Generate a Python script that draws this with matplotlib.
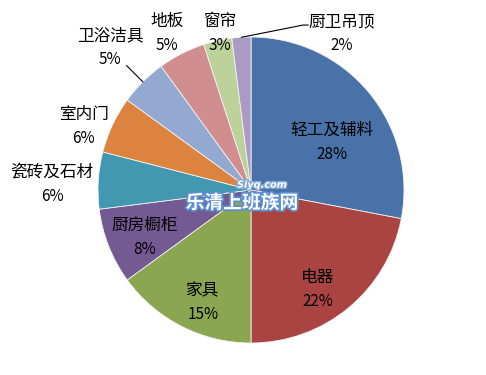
import numpy as np
import matplotlib
matplotlib.use("Agg")
import matplotlib.pyplot as plt
import matplotlib.patheffects as pe

plt.rcParams['font.family'] = ['Noto Sans CJK SC', 'DejaVu Sans']

categories = ['轻工及辅料', '电器', '家具', '厨房橱柜', '瓷砖及石材',
              '室内门', '卫浴洁具', '地板', '窗帘', '厨卫吊顶']
values = [28, 22, 15, 8, 6, 6, 5, 5, 3, 2]
pct_labels = ['28%', '22%', '15%', '8%', '6%', '6%', '5%', '5%', '3%', '2%']

colors = ['#4872A8', '#A94442', '#8AA650', '#735A93', '#4298B0',
          '#DC843F', '#93A9D2', '#D08F8E', '#BDD19A', '#A99BC3']

# label block centres (pie units, radius = 1)
label_pos = [(0.529, 0.310), (0.438, -0.650), (-0.314, -0.735), (-0.693, -0.310),
             (-1.301, 0.039), (-1.092, 0.415), (-0.922, 0.931), (-0.549, 1.023),
             (-0.203, 1.023), (0.595, 1.020)]

W, H = 486, 375
fig = plt.figure(figsize=(W / 100, H / 100), dpi=100)
cx, cy, R = 251, 190, 153
ax = fig.add_axes([(cx - R) / W, (H - cy - R) / H, 2 * R / W, 2 * R / H])

wedges, _ = ax.pie(values, colors=colors, startangle=90, counterclock=False,
                   radius=1.0, wedgeprops=dict(edgecolor='#F2F2F2', linewidth=0.6))
ax.set_xlim(-1, 1)
ax.set_ylim(-1, 1)
ax.set_aspect('equal')
ax.axis('off')

for name, pct, (x, y) in zip(categories, pct_labels, label_pos):
    ax.annotate(name, (x, y), xytext=(0, 12), textcoords='offset pixels',
                ha='center', va='center', fontsize=12, color='black',
                annotation_clip=False)
    ax.annotate(pct, (x, y), xytext=(0, -12), textcoords='offset pixels',
                ha='center', va='center', fontsize=11, color='black',
                annotation_clip=False)

# leader lines
def mid_angle(w):
    return np.deg2rad((w.theta1 + w.theta2) / 2)

a = mid_angle(wedges[6])
ax.plot([np.cos(a), 1.15 * np.cos(a)], [np.sin(a), 1.15 * np.sin(a)],
        color='black', lw=0.8, clip_on=False)
a = mid_angle(wedges[9])
ax.plot([np.cos(a), 0.34, 0.373], [np.sin(a), 1.078, 1.078],
        color='black', lw=0.8, clip_on=False)

# watermark
stroke = [pe.withStroke(linewidth=2.5, foreground='#5B8FD0')]
ax.text(-0.059, -0.085, '乐清上班族网', ha='center', va='center', fontsize=13.5,
        fontweight='bold', style='italic', color='white', path_effects=stroke)
ax.text(0.072, 0.035, 'Siyq.com', ha='center', va='center', fontsize=7,
        fontweight='bold', style='italic', color='white',
        family=['DejaVu Sans'], path_effects=[pe.withStroke(linewidth=2, foreground='#7FA8DA')])

fig.savefig('out.png', dpi=100, facecolor='white')
